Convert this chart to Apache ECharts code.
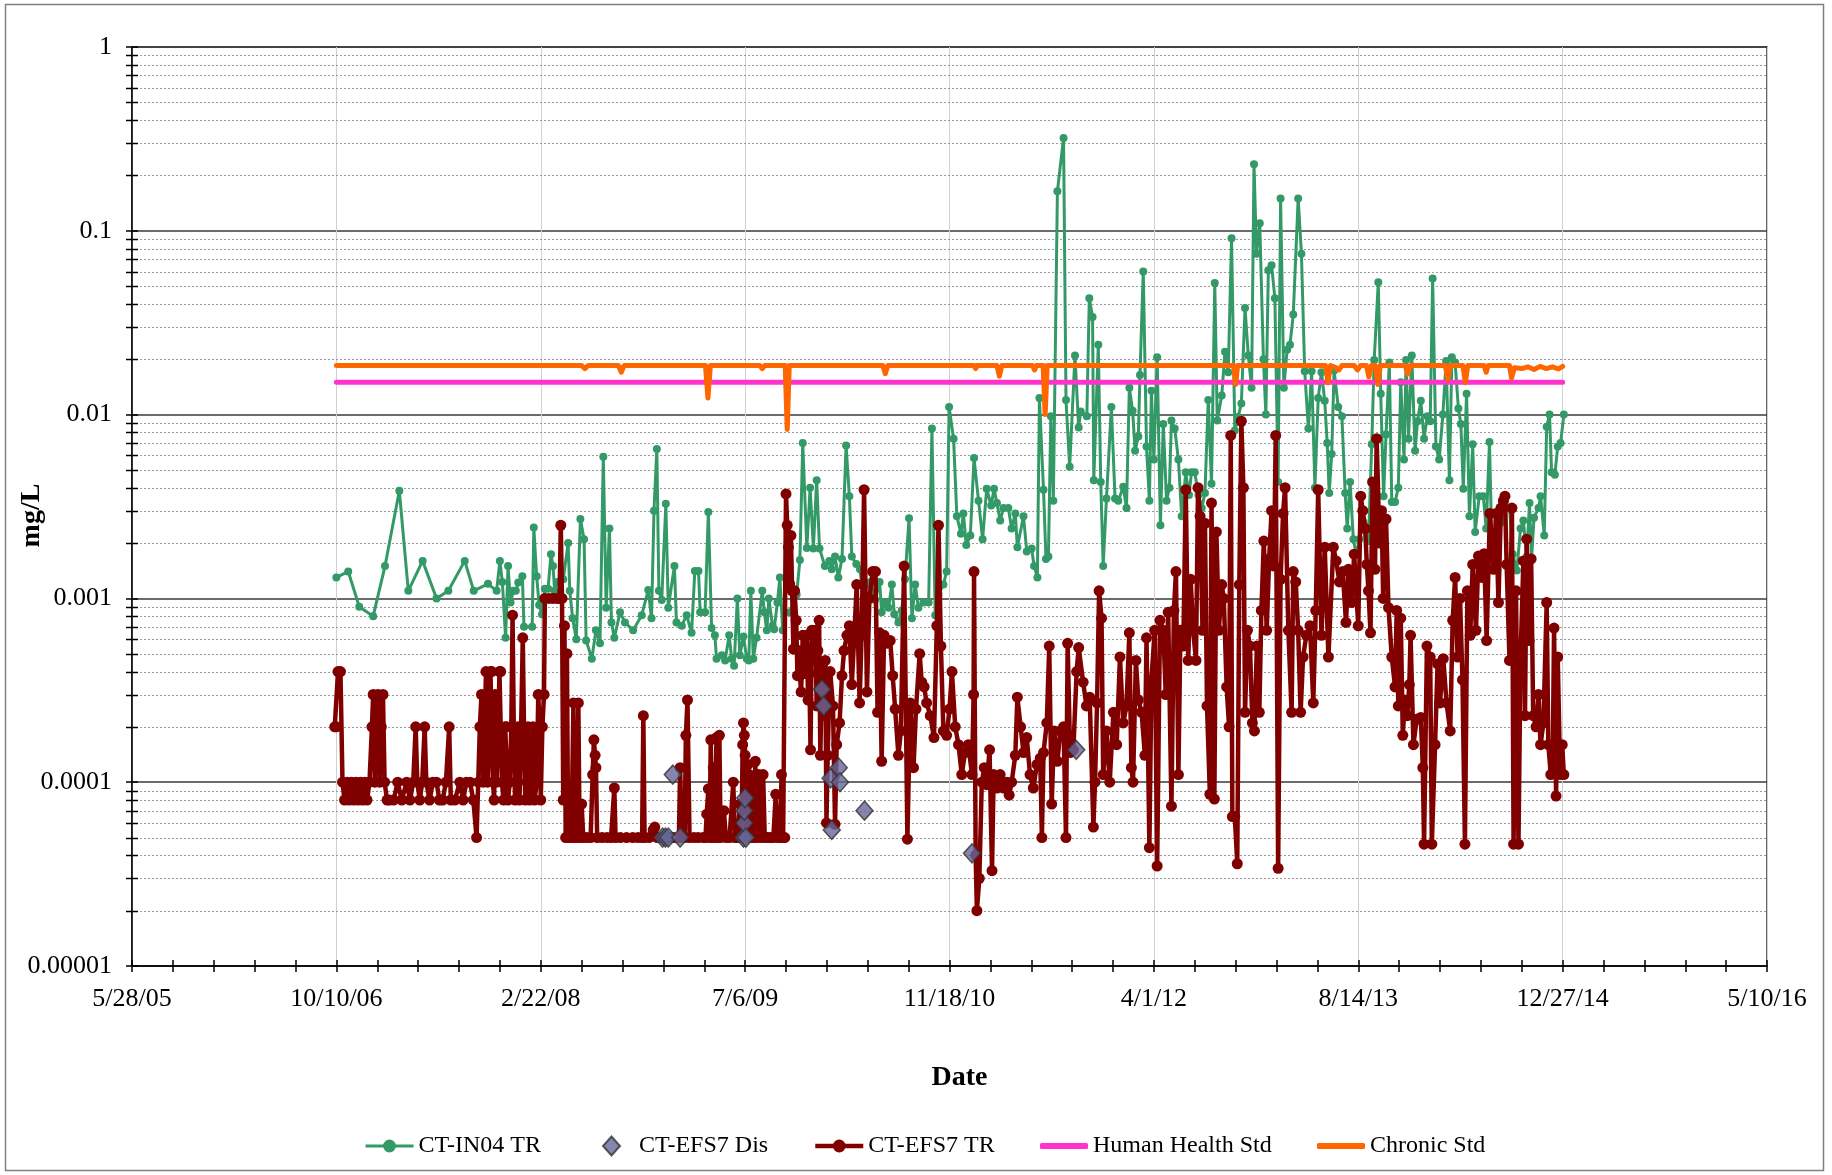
<!DOCTYPE html>
<html>
<head>
<meta charset="utf-8">
<title>mg/L by Date</title>
<script src="https://cdn.jsdelivr.net/npm/echarts@6/dist/echarts.min.js"></script>
<style>
  html, body { margin: 0; padding: 0; background: #fff; }
  #chart { width: 1832px; height: 1175px; }
</style>
</head>
<body>
<div id="chart"></div>
<script>
// dates are Excel serial days (38500 = 5/28/05)
const xTicks = [38500, 39000, 39500, 40000, 40500, 41000, 41500, 42000, 42500];
const yTicks = [0.00001, 0.0001, 0.001, 0.01, 0.1, 1];
const yTickLabels = ['0.00001', '0.0001', '0.001', '0.01', '0.1', '1'];

// CT-IN04 TR
const in04Dates = [
  39000, 39029, 39056, 39090, 39119, 39154, 39176, 39211, 39245, 39274, 39314, 39336, 39371, 39392,
  39400, 39406, 39414, 39420, 39426, 39433, 39439, 39445, 39455, 39459, 39479, 39483, 39490, 39496,
  39503, 39510, 39518, 39525, 39530, 39534, 39541, 39555, 39567, 39571, 39578, 39587, 39597, 39606,
  39611, 39625, 39635, 39645, 39653, 39660, 39668, 39673, 39680, 39694, 39706, 39726, 39747, 39763,
  39771, 39777, 39784, 39789, 39796, 39806, 39812, 39827, 39832, 39845, 39857, 39869, 39877, 39886,
  39890, 39902, 39910, 39918, 39926, 39930, 39943, 39951, 39961, 39967, 39973, 39981, 39987, 39996,
  40004, 40009, 40014, 40020, 40028, 40042, 40047, 40053, 40058, 40067, 40071, 40079, 40085, 40092,
  40098, 40110, 40126, 40134, 40141, 40151, 40159, 40167, 40175, 40182, 40195, 40206, 40212, 40220,
  40228, 40237, 40247, 40255, 40261, 40272, 40281, 40290, 40298, 40307, 40318, 40329, 40334, 40343,
  40351, 40359, 40365, 40375, 40383, 40391, 40401, 40408, 40416, 40424, 40436, 40449, 40457, 40465,
  40473, 40485, 40493, 40499, 40510, 40518, 40528, 40534, 40541, 40551, 40560, 40571, 40581, 40591,
  40602, 40609, 40616, 40624, 40632, 40644, 40652, 40661, 40666, 40681, 40689, 40701, 40707, 40715,
  40720, 40730, 40736, 40742, 40748, 40754, 40764, 40779, 40785, 40794, 40807, 40816, 40821, 40836,
  40842, 40850, 40853, 40864, 40870, 40876, 40884, 40896, 40905, 40913, 40925, 40933, 40940, 40948,
  40954, 40962, 40966, 40974, 40982, 40989, 40994, 41000, 41008, 41016, 41023, 41031, 41038, 41043,
  41051, 41060, 41068, 41078, 41086, 41092, 41100, 41109, 41117, 41125, 41133, 41141, 41149, 41155,
  41166, 41174, 41182, 41190, 41198, 41206, 41214, 41223, 41231, 41239, 41245, 41251, 41259, 41268,
  41274, 41280, 41288, 41296, 41304, 41310, 41318, 41326, 41333, 41341, 41353, 41361, 41369, 41378,
  41386, 41394, 41402, 41410, 41418, 41424, 41429, 41435, 41441, 41451, 41460, 41468, 41473, 41480,
  41488, 41495, 41503, 41513, 41525, 41533, 41539, 41549, 41555, 41562, 41568, 41576, 41582, 41590,
  41598, 41604, 41612, 41617, 41623, 41631, 41639, 41645, 41653, 41661, 41669, 41676, 41682, 41690,
  41698, 41707, 41715, 41723, 41729, 41737, 41745, 41751, 41757, 41765, 41772, 41780, 41786, 41796,
  41806, 41813, 41821, 41827, 41835, 41843, 41851, 41859, 41870, 41878, 41888, 41897, 41904, 41912,
  41919, 41924, 41930, 41941, 41946, 41955, 41961, 41968, 41973, 41981, 41988, 41995, 42003
];
const in04Values = [
  0.0013, 0.0014, 0.0009, 0.0008, 0.0015, 0.00385, 0.0011, 0.0016, 0.001, 0.0011, 0.0016, 0.0011, 0.0012, 0.0011,
  0.0016, 0.00123, 0.00061, 0.0015, 0.00095, 0.0011, 0.0011, 0.00122, 0.00132, 0.0007, 0.0007, 0.00243, 0.00132, 0.00092,
  0.00082, 0.00113, 0.00113, 0.00174, 0.0015, 0.0011, 0.00123, 0.00127, 0.002, 0.0011, 0.00078, 0.0006, 0.0027, 0.0021,
  0.00059, 0.00047, 0.00067, 0.00057, 0.0059, 0.00089, 0.0024, 0.00074, 0.00061, 0.00084, 0.00074, 0.00067, 0.00081, 0.00111,
  0.00078, 0.003, 0.0065, 0.0011, 0.00098, 0.00327, 0.00089, 0.0015, 0.00074, 0.00071, 0.00081, 0.00065, 0.00141, 0.00141,
  0.00084, 0.00084, 0.00295, 0.00069, 0.00063, 0.00047, 0.00049, 0.00046, 0.00063, 0.00047, 0.00043, 0.001, 0.00049, 0.00062,
  0.00047, 0.00046, 0.0011, 0.00047, 0.00061, 0.0011, 0.00084, 0.00067, 0.001, 0.00071, 0.00068, 0.00095, 0.0013, 0.00067,
  0.00084, 0.00084, 0.00105, 0.00162, 0.007, 0.00188, 0.004, 0.00187, 0.0044, 0.00187, 0.0015, 0.0016, 0.00144, 0.00169,
  0.0013, 0.00164, 0.0068, 0.0036, 0.00169, 0.00154, 0.00144, 0.00095, 0.00119, 0.00123, 0.00098, 0.00123, 0.00084, 0.00095,
  0.00089, 0.00119, 0.00082, 0.00074, 0.00086, 0.00127, 0.00273, 0.00078, 0.00119, 0.00089, 0.00095, 0.00095, 0.0084, 0.00081,
  0.00105, 0.00119, 0.0014, 0.011, 0.0074, 0.0028, 0.00225, 0.0029, 0.00195, 0.0022, 0.0058, 0.0034, 0.0021, 0.00395,
  0.0032, 0.00395, 0.0033, 0.00265, 0.0031, 0.0031, 0.0024, 0.0029, 0.0019, 0.0028, 0.0018, 0.00187, 0.0015, 0.0013,
  0.0123, 0.0039, 0.00164, 0.00169, 0.0098, 0.0034, 0.164, 0.32, 0.012, 0.0052, 0.021, 0.0085, 0.0104, 0.0098,
  0.043, 0.034, 0.0044, 0.024, 0.0043, 0.0015, 0.0035, 0.011, 0.0035, 0.0034, 0.00405, 0.0031, 0.014, 0.0105,
  0.00635, 0.0076, 0.0164, 0.06, 0.0067, 0.0034, 0.0135, 0.0057, 0.0205, 0.0025, 0.0089, 0.0034, 0.004, 0.0093,
  0.0084, 0.0057, 0.0028, 0.00485, 0.00365, 0.00485, 0.00485, 0.00365, 0.0031, 0.00375, 0.012, 0.0042, 0.052, 0.0093,
  0.0127, 0.022, 0.017, 0.091, 0.0082, 0.0097, 0.0115, 0.038, 0.021, 0.014, 0.23, 0.075, 0.11, 0.02,
  0.01, 0.061, 0.065, 0.043, 0.0043, 0.15, 0.014, 0.0225, 0.024, 0.035, 0.15, 0.075, 0.0172, 0.0084,
  0.0172, 0.004, 0.0123, 0.017, 0.0119, 0.007, 0.00375, 0.0061, 0.0174, 0.011, 0.0098, 0.00375, 0.0024, 0.0043,
  0.0021, 0.00174, 0.0021, 0.0026, 0.00205, 0.0069, 0.0198, 0.0525, 0.013, 0.0036, 0.0078, 0.0192, 0.00335, 0.00335,
  0.004, 0.015, 0.0057, 0.0198, 0.0074, 0.021, 0.00635, 0.0092, 0.0119, 0.0074, 0.0098, 0.0092, 0.055, 0.0067,
  0.0057, 0.01, 0.0196, 0.0044, 0.0205, 0.0192, 0.0108, 0.0089, 0.00395, 0.013, 0.0028, 0.0069, 0.0023, 0.0036,
  0.0036, 0.0024, 0.0071, 0.0019, 0.00144, 0.00295, 0.0026, 0.0034, 0.0031, 0.00174, 0.00142, 0.0024, 0.00265, 0.00169,
  0.0033, 0.00164, 0.00275, 0.0031, 0.0036, 0.0022, 0.0086, 0.01, 0.00485, 0.0047, 0.0067, 0.007, 0.01
];

// CT-EFS7 Dis
const disDates = [39798, 39805, 39812, 39823, 39841, 39996, 39998, 39998, 40000, 40002, 40188, 40192, 40209, 40212, 40229, 40232, 40292, 40555, 40810];
const disValues = [0.00005, 0.00005, 0.00005, 0.00011, 0.00005, 0.00005, 0.00006, 0.00007, 0.000082, 0.00005, 0.00032, 0.00026, 0.000105, 0.000055, 0.00012, 0.0001, 0.00007, 0.000041, 0.00015];

// CT-EFS7 TR
const efs7Dates = [
  38996, 39000, 39004, 39010, 39015, 39020, 39026, 39031, 39037, 39042, 39048, 39053, 39059, 39064,
  39070, 39075, 39081, 39087, 39090, 39094, 39098, 39102, 39106, 39110, 39114, 39118, 39124, 39130,
  39140, 39150, 39160, 39172, 39180, 39188, 39194, 39198, 39204, 39210, 39216, 39220, 39228, 39236,
  39245, 39252, 39260, 39268, 39276, 39280, 39290, 39302, 39310, 39318, 39327, 39335, 39343, 39347,
  39351, 39355, 39359, 39363, 39366, 39370, 39374, 39377, 39380, 39383, 39386, 39389, 39392, 39396,
  39399, 39402, 39405, 39409, 39413, 39416, 39420, 39424, 39428, 39431, 39434, 39437, 39441, 39445,
  39448, 39452, 39456, 39459, 39462, 39466, 39469, 39473, 39477, 39481, 39485, 39490, 39494, 39497,
  39500, 39504, 39508, 39510, 39520, 39530, 39540, 39546, 39549, 39552, 39555, 39558, 39561, 39564,
  39567, 39571, 39575, 39580, 39583, 39588, 39592, 39595, 39600, 39604, 39612, 39622, 39627, 39630,
  39633, 39635, 39638, 39650, 39662, 39672, 39680, 39683, 39695, 39710, 39725, 39738, 39748, 39751,
  39754, 39765, 39775, 39779, 39785, 39795, 39805, 39815, 39825, 39838, 39841, 39845, 39852, 39855,
  39859, 39864, 39875, 39885, 39897, 39903, 39906, 39910, 39913, 39916, 39919, 39922, 39925, 39930,
  39933, 39937, 39940, 39948, 39953, 39962, 39971, 39975, 39982, 39987, 39991, 39994, 39996, 39998,
  40000, 40003, 40007, 40010, 40013, 40016, 40020, 40025, 40028, 40033, 40038, 40044, 40048, 40055,
  40062, 40069, 40075, 40080, 40086, 40089, 40093, 40097, 40100, 40103, 40106, 40109, 40112, 40115,
  40118, 40121, 40125, 40128, 40131, 40134, 40137, 40141, 40144, 40147, 40151, 40154, 40157, 40160,
  40163, 40166, 40169, 40172, 40175, 40178, 40181, 40184, 40187, 40190, 40193, 40196, 40199, 40202,
  40205, 40208, 40215, 40220, 40224, 40231, 40237, 40242, 40249, 40255, 40261, 40267, 40273, 40280,
  40285, 40291, 40298, 40304, 40312, 40319, 40324, 40329, 40334, 40340, 40347, 40355, 40361, 40367,
  40375, 40381, 40389, 40397, 40404, 40412, 40418, 40427, 40432, 40438, 40444, 40453, 40462, 40469,
  40473, 40479, 40485, 40493, 40500, 40506, 40514, 40522, 40530, 40538, 40546, 40555, 40559, 40560,
  40564, 40567, 40573, 40579, 40585, 40591, 40598, 40604, 40608, 40616, 40624, 40632, 40640, 40646,
  40652, 40661, 40666, 40674, 40681, 40689, 40697, 40705, 40714, 40722, 40726, 40730, 40738, 40744,
  40750, 40756, 40764, 40771, 40779, 40785, 40789, 40795, 40803, 40811, 40816, 40827, 40835, 40843,
  40852, 40856, 40861, 40866, 40872, 40876, 40884, 40892, 40901, 40909, 40917, 40925, 40933, 40940,
  40945, 40949, 40956, 40962, 40970, 40978, 40982, 40989, 40994, 41002, 41008, 41015, 41023, 41029,
  41035, 41043, 41049, 41054, 41060, 41065, 41072, 41078, 41084, 41090, 41096, 41103, 41108, 41113,
  41119, 41125, 41130, 41137, 41141, 41148, 41153, 41159, 41166, 41171, 41178, 41184, 41188, 41192,
  41198, 41204, 41209, 41214, 41219, 41223, 41229, 41235, 41241, 41246, 41252, 41258, 41263, 41269,
  41276, 41282, 41288, 41294, 41298, 41304, 41310, 41316, 41321, 41329, 41337, 41341, 41347, 41353,
  41359, 41365, 41373, 41382, 41390, 41396, 41402, 41410, 41418, 41427, 41439, 41446, 41454, 41462,
  41470, 41476, 41484, 41490, 41500, 41506, 41511, 41517, 41521, 41525, 41530, 41535, 41541, 41545,
  41552, 41557, 41561, 41568, 41574, 41582, 41590, 41594, 41598, 41604, 41609, 41614, 41620, 41625,
  41628, 41635, 41643, 41653, 41658, 41661, 41668, 41676, 41680, 41688, 41694, 41700, 41708, 41716,
  41725, 41731, 41737, 41743, 41749, 41755, 41761, 41767, 41774, 41780, 41788, 41794, 41802, 41808,
  41814, 41822, 41831, 41837, 41843, 41849, 41855, 41859, 41863, 41870, 41876, 41880, 41886, 41892,
  41897, 41904, 41908, 41912, 41918, 41923, 41928, 41935, 41941, 41946, 41953, 41961, 41965, 41971,
  41976, 41979, 41984, 41988, 41994, 41999, 42003
];
const efs7Values = [
  0.0002, 0.0002, 0.0004, 0.0004, 0.0001, 0.00008, 0.0001, 0.00008, 0.0001, 0.00008, 0.0001, 0.00008, 0.0001, 0.00008,
  0.0001, 0.00008, 0.0001, 0.0002, 0.0003, 0.0001, 0.0002, 0.0003, 0.0001, 0.0002, 0.0003, 0.0001, 0.00008, 0.00008,
  0.00008, 0.0001, 0.00008, 0.0001, 0.00008, 0.0001, 0.0002, 0.0001, 0.00008, 0.0001, 0.0002, 0.0001, 0.00008, 0.0001,
  0.0001, 0.00008, 0.00008, 0.0001, 0.0002, 0.00008, 0.00008, 0.0001, 0.00008, 0.0001, 0.0001, 0.00008, 0.00005, 0.0001,
  0.0002, 0.0003, 0.0001, 0.0002, 0.0004, 0.0001, 0.0002, 0.0004, 0.0004, 0.0001, 0.00008, 0.0003, 0.0001, 0.0002,
  0.0004, 0.0004, 0.0001, 0.00008, 0.0002, 0.0002, 0.00008, 0.0001, 0.0002, 0.00081, 0.0002, 0.00008, 0.0001, 0.0002,
  0.00008, 0.0002, 0.00061, 0.0002, 0.00008, 0.0001, 0.0002, 0.00008, 0.0001, 0.0002, 0.00008, 0.0001, 0.0003, 0.0002,
  0.00008, 0.0002, 0.0003, 0.001, 0.001, 0.001, 0.001, 0.001, 0.0025, 0.001, 0.00008, 0.00071, 0.00005, 0.0005,
  0.00005, 0.00008, 0.00005, 0.00027, 0.00005, 0.00005, 0.00027, 0.00005, 0.000076, 0.00005, 0.00005, 0.00005, 0.00011, 0.00017,
  0.00014, 0.00012, 0.00005, 0.00005, 0.00005, 0.00005, 0.000093, 0.00005, 0.00005, 0.00005, 0.00005, 0.00005, 0.00005, 0.00023,
  0.00005, 0.00005, 0.000055, 0.000057, 0.00005, 0.00005, 0.00005, 0.00005, 0.00005, 0.00005, 0.00012, 0.00005, 0.00005, 0.00018,
  0.00028, 0.00005, 0.00005, 0.00005, 0.00005, 0.00005, 0.000067, 0.000092, 0.00005, 0.00017, 0.00005, 0.00012, 0.00005, 0.000175,
  0.00005, 0.00018, 0.00005, 0.00007, 0.00005, 0.00005, 0.0001, 0.00005, 0.00005, 0.000076, 0.00005, 0.00016, 0.00021, 0.00018,
  0.00014, 0.00005, 0.000125, 0.00011, 0.00005, 0.0001, 0.00005, 0.00013, 0.00005, 0.00011, 0.00005, 0.00011, 0.00005, 0.00005,
  0.00005, 0.00005, 0.000086, 0.00005, 0.00005, 0.00011, 0.00005, 0.00005, 0.0037, 0.0025, 0.0019, 0.0012, 0.0022, 0.0011,
  0.00053, 0.0011, 0.00076, 0.00038, 0.00052, 0.00038, 0.00031, 0.00063, 0.00042, 0.00039, 0.00063, 0.00028, 0.00039, 0.00015,
  0.00067, 0.00046, 0.00055, 0.00067, 0.00026, 0.00052, 0.00076, 0.00014, 0.00033, 0.00044, 0.00023, 0.00046, 0.00006, 0.00014,
  0.00026, 0.0004, 0.00026, 0.000059, 0.00016, 0.00021, 0.00038, 0.00052, 0.00063, 0.00071, 0.00034, 0.00063, 0.00119, 0.00027,
  0.00063, 0.0039, 0.00031, 0.001, 0.0014, 0.0014, 0.00024, 0.00065, 0.00013, 0.00063, 0.00057, 0.00059, 0.00038, 0.00025,
  0.00014, 0.00019, 0.0015, 0.000049, 0.00027, 0.00012, 0.00025, 0.0005, 0.00035, 0.00033, 0.00027, 0.00023, 0.000175, 0.00071,
  0.0025, 0.00055, 0.00019, 0.00018, 0.00025, 0.0004, 0.0002, 0.00016, 0.00011, 0.000145, 0.00016, 0.00011, 0.0003, 0.0014,
  0.00004, 0.00002, 0.00003, 0.0001, 0.00012, 0.000097, 0.00015, 0.000033, 0.00011, 0.000093, 0.00011, 0.000093, 0.0001, 0.000085,
  0.0001, 0.00014, 0.00029, 0.0002, 0.000145, 0.000175, 0.00011, 0.000093, 0.000125, 0.000135, 0.00005, 0.000145, 0.00021, 0.00055,
  0.000076, 0.00019, 0.00013, 0.00019, 0.0002, 0.00005, 0.00057, 0.000145, 0.00015, 0.0004, 0.00054, 0.00035, 0.00026, 0.00029,
  0.000057, 0.0001, 0.00027, 0.0011, 0.00078, 0.00011, 0.00019, 0.0001, 0.00024, 0.00016, 0.00048, 0.00021, 0.00026, 0.00065,
  0.00012, 0.0001, 0.00046, 0.00028, 0.00024, 0.00014, 0.00061, 0.000044, 0.00036, 0.00067, 0.000035, 0.00076, 0.00067, 0.0003,
  0.00084, 0.000074, 0.00086, 0.0014, 0.00011, 0.00067, 0.00055, 0.0039, 0.00046, 0.00127, 0.00067, 0.00046, 0.004, 0.0028,
  0.00067, 0.00256, 0.00026, 0.000086, 0.0033, 0.000081, 0.0023, 0.00067, 0.00119, 0.001, 0.00033, 0.0002, 0.0077, 0.000065,
  0.000065, 0.000036, 0.00119, 0.0092, 0.004, 0.00024, 0.00067, 0.00055, 0.00021, 0.00019, 0.00055, 0.00024, 0.00086, 0.00205,
  0.00067, 0.00164, 0.003, 0.0015, 0.0077, 0.000034, 0.00127, 0.0029, 0.004, 0.00067, 0.00024, 0.0014, 0.00123, 0.00067,
  0.00024, 0.00048, 0.00063, 0.00071, 0.00027, 0.00086, 0.0039, 0.00063, 0.0019, 0.00048, 0.0019, 0.0016, 0.00123, 0.0014,
  0.00074, 0.00144, 0.00095, 0.00174, 0.00071, 0.0036, 0.003, 0.0024, 0.00153, 0.0011, 0.00065, 0.0043, 0.00144, 0.0074,
  0.002, 0.003, 0.001, 0.0027, 0.00089, 0.00048, 0.00033, 0.00086, 0.00026, 0.00078, 0.00018, 0.00028, 0.00023, 0.00034,
  0.00063, 0.00016, 0.00022, 0.000225, 0.00012, 0.000046, 0.00055, 0.00048, 0.000046, 0.00016, 0.00044, 0.00027, 0.00047, 0.00027,
  0.00019, 0.00076, 0.0013, 0.00048, 0.001, 0.00036, 0.000046, 0.0011, 0.00063, 0.00153, 0.00067, 0.0017, 0.0013, 0.00175,
  0.00059, 0.0029, 0.00144, 0.0029, 0.00095, 0.0031, 0.0034, 0.0036, 0.00153, 0.00046, 0.0031, 0.000046, 0.0011, 0.000046,
  0.00047, 0.0016, 0.00023, 0.0021, 0.00059, 0.00164, 0.00023, 0.0002, 0.0003, 0.00016, 0.00021, 0.00095, 0.00016, 0.00011,
  0.00014, 0.00069, 0.000084, 0.00048, 0.00011, 0.00016, 0.00011
];

// Human Health Std
const hhDates = [39000, 42000];
const hhValues = [0.015, 0.015];

// Chronic Std
const chronicDates = [
  39000, 39600, 39608, 39616, 39690, 39697, 39704, 39903, 39909, 39915, 40036, 40042, 40048, 40098,
  40103, 40108, 40337, 40343, 40349, 40560, 40564, 40568, 40616, 40622, 40628, 40703, 40708, 40713,
  40729, 40734, 40739, 41195, 41200, 41205, 41420, 41426, 41432, 41445, 41453, 41460, 41490, 41498,
  41506, 41520, 41526, 41532, 41542, 41548, 41554, 41615, 41621, 41627, 41713, 41719, 41725, 41756,
  41762, 41768, 41808, 41813, 41818, 41870, 41875, 41882, 41900, 41915, 41930, 41945, 41960, 41975,
  41990, 42000
];
const chronicValues = [
  0.0185, 0.0185, 0.0178, 0.0185, 0.0185, 0.017, 0.0185, 0.0185, 0.0123, 0.0185, 0.0185, 0.0178, 0.0185, 0.0185,
  0.0083, 0.0185, 0.0185, 0.0167, 0.0185, 0.0185, 0.0178, 0.0185, 0.0185, 0.0162, 0.0185, 0.0185, 0.0175, 0.0185,
  0.0185, 0.01, 0.0185, 0.0185, 0.0146, 0.0185, 0.0185, 0.0149, 0.0185, 0.018, 0.0175, 0.0185, 0.0185, 0.0175,
  0.0185, 0.0185, 0.016, 0.0185, 0.0185, 0.0146, 0.0185, 0.0185, 0.0166, 0.0185, 0.0185, 0.0155, 0.0185, 0.0185,
  0.0149, 0.0185, 0.0185, 0.017, 0.0185, 0.0185, 0.0158, 0.018, 0.0178, 0.0182, 0.0176, 0.0183, 0.0178, 0.0182,
  0.0177, 0.0183
];

const fontFamily = "'Liberation Serif', 'Times New Roman', serif";
const xMin = xTicks[0];
const xMax = xTicks[xTicks.length - 1];

// minor log positions 2..9 inside each decade
const minorY = [];
for (let i = 0; i < yTicks.length - 1; i++) {
  for (let k = 2; k <= 9; k++) {
    minorY.push(yTicks[i] * k);
  }
}

function zip(xs, ys) {
  return xs.map((x, i) => [x, ys[i]]);
}

function serialToLabel(s) {
  const d = new Date(Date.UTC(1899, 11, 30) + s * 86400000);
  return (d.getUTCMonth() + 1) + '/' + d.getUTCDate() + '/' + String(d.getUTCFullYear()).slice(2);
}

function yLabel(v) {
  const i = Math.round(Math.log10(v)) + 5;
  return yTickLabels[i] || '';
}

const chart = echarts.init(document.getElementById('chart'));

const legendBase = {
  top: 1129,
  itemWidth: 48,
  itemHeight: 16,
  textStyle: { fontFamily: fontFamily, fontSize: 24, color: '#000' },
  lineStyle: { width: 'inherit' },
  selectedMode: false
};

const option = {
  animation: false,
  backgroundColor: '#fff',
  textStyle: { fontFamily: fontFamily },
  graphic: [{
    type: 'rect',
    shape: { x: 5.5, y: 4.5, width: 1818, height: 1166 },
    style: { fill: 'none', stroke: '#808080', lineWidth: 1.5 },
    silent: true
  }],
  grid: {
    left: 132, right: 65, top: 47, bottom: 209,
    outerBoundsMode: 'none',
    containLabel: false,
    show: true, borderColor: '#333', borderWidth: 1.5, backgroundColor: 'transparent'
  },
  legend: [
    Object.assign({}, legendBase, { data: ['CT-IN04 TR'], left: 359 }),
    Object.assign({}, legendBase, { data: ['CT-EFS7 Dis'], left: 597, itemWidth: 17, itemHeight: 19,
      textStyle: Object.assign({}, legendBase.textStyle, { padding: [0, 0, 0, 14] }) }),
    Object.assign({}, legendBase, { data: ['CT-EFS7 TR'], left: 808 }),
    Object.assign({}, legendBase, { data: [{ name: 'Human Health Std', icon: 'roundRect' }], left: 1035, itemHeight: 6 }),
    Object.assign({}, legendBase, { data: [{ name: 'Chronic Std', icon: 'roundRect' }], left: 1312, itemHeight: 6 })
  ],
  xAxis: [{
    type: 'value',
    min: xMin, max: xMax, interval: 500,
    name: 'Date',
    nameLocation: 'middle',
    nameGap: 98,
    nameMoveOverlap: false,
    nameTextStyle: { fontFamily: fontFamily, fontSize: 28, fontWeight: 'bold', color: '#000', padding: [0, 0, 0, 20] },
    axisLine: { show: true, lineStyle: { color: '#000', width: 1.5 } },
    axisTick: { show: true, length: 6, lineStyle: { color: '#000', width: 1.5 } },
    minorTick: { show: true, splitNumber: 5, length: 6, lineStyle: { color: '#000', width: 1.5 } },
    axisLabel: { fontFamily: fontFamily, fontSize: 26, color: '#000', margin: 20, formatter: serialToLabel },
    splitLine: { show: true, lineStyle: { color: '#d0d0d0', width: 1 } }
  }, {
    type: 'value',
    min: xMin, max: xMax, interval: 500,
    axisLine: { show: false },
    axisTick: { show: true, inside: true, length: 6, lineStyle: { color: '#000', width: 1.5 } },
    minorTick: { show: true, splitNumber: 5, length: 6, lineStyle: { color: '#000', width: 1.5 } },
    axisLabel: { show: false },
    splitLine: { show: false },
    position: 'bottom'
  }],
  yAxis: [{
    type: 'log',
    logBase: 10,
    min: yTicks[0], max: yTicks[yTicks.length - 1],
    name: 'mg/L',
    nameLocation: 'middle',
    nameGap: 86,
    nameRotate: 90,
    nameMoveOverlap: false,
    nameTextStyle: { fontFamily: fontFamily, fontSize: 28, fontWeight: 'bold', color: '#000', padding: [0, 18, 0, 0] },
    axisLine: { show: true, lineStyle: { color: '#000', width: 1.5 } },
    axisTick: { show: true, length: 6, lineStyle: { color: '#000', width: 1.5 } },
    axisLabel: { fontFamily: fontFamily, fontSize: 26, color: '#000', margin: 20, formatter: yLabel },
    splitLine: { show: true, lineStyle: { color: '#3a3a3a', width: 1.5 } }
  }, {
    type: 'log',
    logBase: 10,
    min: yTicks[0], max: yTicks[yTicks.length - 1],
    position: 'left',
    axisLine: { show: false },
    axisTick: { show: true, inside: true, length: 6, lineStyle: { color: '#000', width: 1.5 } },
    axisLabel: { show: false },
    splitLine: { show: false }
  }],
  series: [
    {
      name: 'minor',
      type: 'custom',
      silent: true,
      clip: false,
      z: 1,
      data: minorY.map(v => [xMin, v]),
      renderItem: function (params, api) {
        const v = api.value(1);
        const a = api.coord([xMin, v]);
        const b = api.coord([xMax, v]);
        const y = Math.round(a[1]) + 0.5;
        return {
          type: 'group',
          children: [
            { type: 'line', shape: { x1: a[0], y1: y, x2: b[0], y2: y },
              style: { stroke: '#9a9a9a', lineWidth: 1, lineDash: [2, 2] } },
            { type: 'line', shape: { x1: a[0] - 6, y1: y, x2: a[0] + 6, y2: y },
              style: { stroke: '#000', lineWidth: 1.5 } }
          ]
        };
      }
    },
    {
      name: 'CT-IN04 TR',
      type: 'line',
      data: zip(in04Dates, in04Values),
      symbol: 'circle',
      symbolSize: 8,
      showAllSymbol: true,
      lineStyle: { color: '#339966', width: 3 },
      itemStyle: { color: '#339966' },
      z: 3
    },
    {
      name: 'CT-EFS7 TR',
      type: 'line',
      data: zip(efs7Dates, efs7Values),
      symbol: 'circle',
      symbolSize: 11,
      showAllSymbol: true,
      lineStyle: { color: '#800000', width: 4.5 },
      itemStyle: { color: '#800000' },
      z: 4
    },
    {
      name: 'CT-EFS7 Dis',
      type: 'scatter',
      data: zip(disDates, disValues),
      symbol: 'diamond',
      symbolSize: [17, 19],
      itemStyle: { color: '#666699', borderColor: '#333333', borderWidth: 1.5 },
      z: 5
    },
    {
      name: 'Human Health Std',
      type: 'line',
      data: zip(hhDates, hhValues),
      symbol: 'none',
      lineStyle: { color: '#ff33cc', width: 5, cap: 'round' },
      itemStyle: { color: '#ff33cc' },
      z: 6
    },
    {
      name: 'Chronic Std',
      type: 'line',
      data: zip(chronicDates, chronicValues),
      symbol: 'none',
      lineStyle: { color: '#ff6600', width: 5, cap: 'round', join: 'round' },
      itemStyle: { color: '#ff6600' },
      z: 7
    }
  ]
};

chart.setOption(option);
</script>
</body>
</html>
